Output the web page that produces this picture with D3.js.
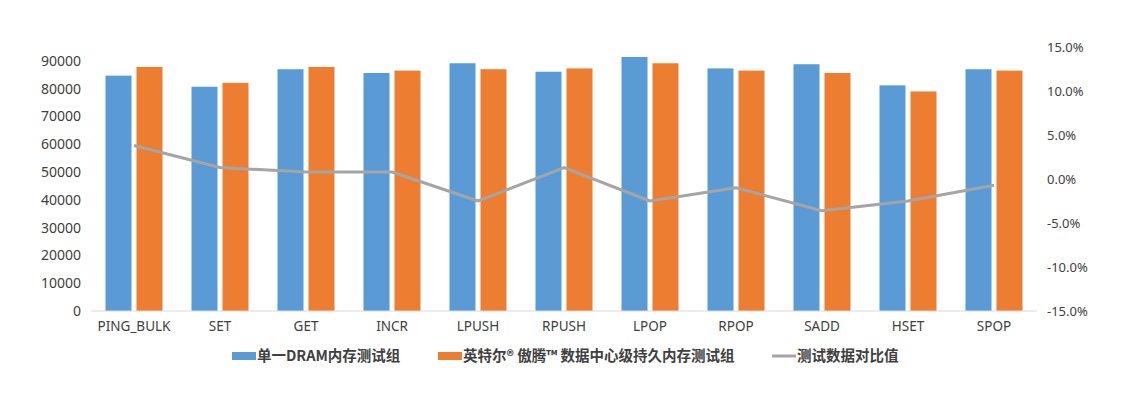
<!DOCTYPE html>
<html>
<head>
<meta charset="utf-8">
<script src="https://cdn.jsdelivr.net/npm/d3@7"></script>
<style>
  body { margin: 0; background: #fff; }
  svg text { font-family: "Noto Sans", "Noto Sans CJK SC", sans-serif; fill: #404040; }
  .legend text { font-family: "Noto Sans CJK SC", sans-serif; font-weight: 600; }
</style>
</head>
<body>
<div id="chart"></div>
<script>
const categories = ['PING_BULK', 'SET', 'GET', 'INCR', 'LPUSH', 'RPUSH', 'LPOP', 'RPOP', 'SADD', 'HSET', 'SPOP'];
const dramValues = [84700, 80700, 87000, 85650, 89150, 86100, 91400, 87300, 88800, 81200, 87000];
const pmemValues = [87800, 82100, 87800, 86500, 87000, 87300, 89150, 86500, 85650, 79000, 86500];
const ratioValues = [3.8, 1.3, 0.8, 0.8, -2.5, 1.3, -2.5, -1.0, -3.6, -2.5, -0.7];
const leftTicks = [0, 10000, 20000, 30000, 40000, 50000, 60000, 70000, 80000, 90000];
const rightTicks = [-15, -10, -5, 0, 5, 10, 15];
const seriesNames = ['单一DRAM内存测试组', '英特尔® 傲腾™ 数据中心级持久内存测试组', '测试数据对比值'];

const COLORS = { dram: '#5b9bd5', pmem: '#ed7d31', ratio: '#a5a5a5' };

const width = 1139, height = 396;
const margin = { top: 47, right: 102, bottom: 85, left: 91 };

const svg = d3.select('#chart').append('svg')
  .attr('width', width)
  .attr('height', height);

const x = d3.scaleBand()
  .domain(categories)
  .range([margin.left, width - margin.right]);

const yLeft = d3.scaleLinear()
  .domain([0, 95000])
  .range([height - margin.bottom, margin.top]);

const yRight = d3.scaleLinear()
  .domain([-15, 15])
  .range([height - margin.bottom, margin.top]);

// bar pair layout inside each band
const barW = 26, barGap = 5;

const groups = svg.append('g').selectAll('g')
  .data(categories)
  .enter().append('g')
  .attr('transform', d => `translate(${x(d) + x.bandwidth() / 2},0)`);

groups.append('rect')
  .attr('x', -barW - barGap / 2)
  .attr('width', barW)
  .attr('y', (d, i) => yLeft(dramValues[i]))
  .attr('height', (d, i) => yLeft(0) - yLeft(dramValues[i]))
  .attr('fill', COLORS.dram);

groups.append('rect')
  .attr('x', barGap / 2)
  .attr('width', barW)
  .attr('y', (d, i) => yLeft(pmemValues[i]))
  .attr('height', (d, i) => yLeft(0) - yLeft(pmemValues[i]))
  .attr('fill', COLORS.pmem);

// baseline
svg.append('line')
  .attr('x1', margin.left).attr('x2', width - margin.right)
  .attr('y1', yLeft(0)).attr('y2', yLeft(0))
  .attr('stroke', '#d9d9d9').attr('stroke-width', 1);

// ratio line
const line = d3.line()
  .x((d, i) => x(categories[i]) + x.bandwidth() / 2)
  .y(d => yRight(d));

svg.append('path')
  .datum(ratioValues)
  .attr('d', line)
  .attr('fill', 'none')
  .attr('stroke', COLORS.ratio)
  .attr('stroke-width', 3)
  .attr('stroke-linejoin', 'round');

// axes
const leftAxis = svg.append('g')
  .attr('transform', `translate(${margin.left - 10},0)`)
  .call(d3.axisLeft(yLeft).tickValues(leftTicks).tickSize(0).tickPadding(0)
    .tickFormat(d3.format('d')));
leftAxis.select('.domain').remove();
leftAxis.selectAll('text').style('font-size', '14px');

const rightAxis = svg.append('g')
  .attr('transform', `translate(${width - margin.right + 10},0)`)
  .call(d3.axisRight(yRight).tickValues(rightTicks).tickSize(0).tickPadding(0)
    .tickFormat(d => d.toFixed(1) + '%'));
rightAxis.select('.domain').remove();
rightAxis.selectAll('text').style('font-size', '13px');

const bottomAxis = svg.append('g')
  .attr('transform', `translate(0,${yLeft(0)})`)
  .call(d3.axisBottom(x).tickSize(0).tickPadding(10));
bottomAxis.select('.domain').remove();
bottomAxis.selectAll('text').style('font-size', '13.5px');

// legend
const legend = svg.append('g').attr('class', 'legend')
  .attr('transform', 'translate(0,356)');
const legendItems = [
  { x: 232, color: COLORS.dram, type: 'rect' },
  { x: 438, color: COLORS.pmem, type: 'rect' },
  { x: 772, color: COLORS.ratio, type: 'line' },
];
legendItems.forEach((it, i) => {
  if (it.type === 'rect') {
    legend.append('rect').attr('x', it.x).attr('y', -4).attr('width', 24).attr('height', 8).attr('fill', it.color);
  } else {
    legend.append('line').attr('x1', it.x).attr('x2', it.x + 24).attr('y1', 0).attr('y2', 0)
      .attr('stroke', it.color).attr('stroke-width', 3);
  }
  legend.append('text')
    .attr('x', it.x + 25).attr('y', 0)
    .attr('dy', '0.35em')
    .style('font-size', '14.5px')
    .text(seriesNames[i]);
});
</script>
</body>
</html>
